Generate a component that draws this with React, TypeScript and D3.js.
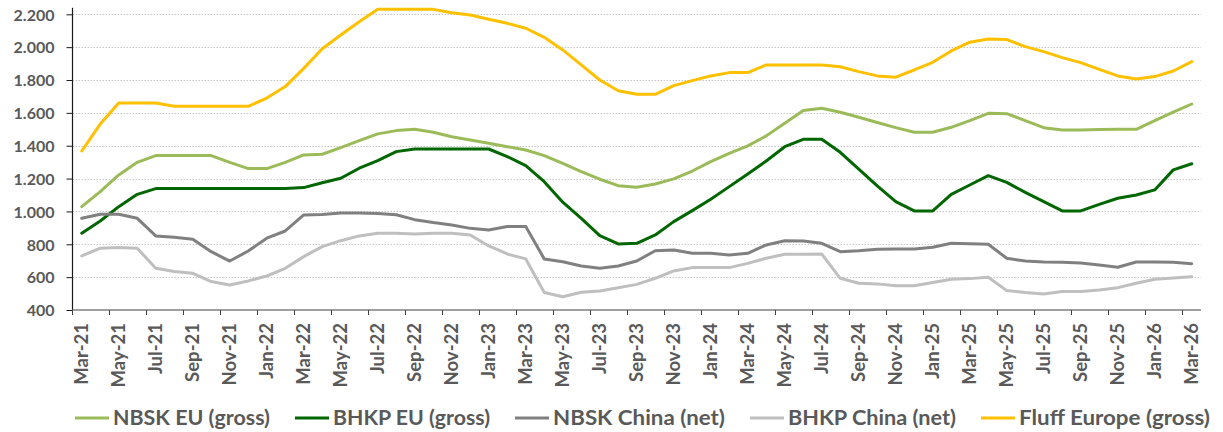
import { useEffect, useRef } from 'react'
import * as d3 from 'd3'

const months = [
  'Mar-21', 'Apr-21', 'May-21', 'Jun-21', 'Jul-21', 'Aug-21', 'Sep-21', 'Oct-21', 'Nov-21', 'Dec-21',
  'Jan-22', 'Feb-22', 'Mar-22', 'Apr-22', 'May-22', 'Jun-22', 'Jul-22', 'Aug-22', 'Sep-22', 'Oct-22',
  'Nov-22', 'Dec-22', 'Jan-23', 'Feb-23', 'Mar-23', 'Apr-23', 'May-23', 'Jun-23', 'Jul-23', 'Aug-23',
  'Sep-23', 'Oct-23', 'Nov-23', 'Dec-23', 'Jan-24', 'Feb-24', 'Mar-24', 'Apr-24', 'May-24', 'Jun-24',
  'Jul-24', 'Aug-24', 'Sep-24', 'Oct-24', 'Nov-24', 'Dec-24', 'Jan-25', 'Feb-25', 'Mar-25', 'Apr-25',
  'May-25', 'Jun-25', 'Jul-25', 'Aug-25', 'Sep-25', 'Oct-25', 'Nov-25', 'Dec-25', 'Jan-26', 'Feb-26',
  'Mar-26',
]

const nbskEu = [
  1029, 1121, 1222, 1299, 1340, 1340, 1340, 1340, 1299, 1261,
  1261, 1299, 1344, 1348, 1388, 1431, 1472, 1492, 1500, 1482,
  1455, 1435, 1415, 1394, 1374, 1340, 1293, 1242, 1196, 1157,
  1147, 1167, 1198, 1246, 1303, 1354, 1399, 1460, 1537, 1614,
  1628, 1604, 1573, 1541, 1510, 1482, 1482, 1512, 1553, 1597,
  1595, 1553, 1510, 1496, 1496, 1498, 1500, 1500, 1553, 1604, 1654,
]

const bhkpEu = [
  867, 942, 1029, 1104, 1139, 1140, 1140, 1140, 1140, 1140,
  1140, 1140, 1145, 1175, 1202, 1263, 1309, 1364, 1380, 1380,
  1380, 1380, 1380, 1334, 1279, 1181, 1056, 958, 853, 802,
  806, 857, 938, 1005, 1074, 1151, 1228, 1307, 1394, 1439,
  1439, 1360, 1257, 1155, 1060, 1003, 1003, 1104, 1161, 1218,
  1177, 1116, 1060, 1003, 1003, 1043, 1080, 1100, 1131, 1253, 1290,
]

const nbskChina = [
  958, 983, 983, 958, 851, 843, 830, 755, 698, 759,
  837, 881, 979, 981, 990, 990, 988, 980, 950, 932,
  918, 897, 887, 908, 908, 711, 694, 668, 654, 668,
  698, 761, 765, 745, 745, 735, 745, 796, 822, 820,
  806, 755, 761, 770, 772, 772, 782, 806, 804, 800,
  715, 698, 692, 690, 686, 674, 660, 692, 692, 690, 682,
]

const bhkpChina = [
  729, 776, 780, 776, 654, 634, 623, 573, 552, 577,
  607, 654, 725, 786, 822, 851, 867, 867, 863, 867,
  867, 857, 790, 741, 711, 506, 481, 508, 516, 536,
  556, 593, 638, 658, 658, 658, 684, 715, 739, 739,
  741, 593, 563, 559, 547, 547, 567, 587, 591, 599,
  518, 506, 498, 512, 512, 522, 536, 563, 587, 595, 603,
]

const fluffEurope = [
  1368, 1532, 1660, 1660, 1660, 1640, 1640, 1640, 1640, 1640,
  1690, 1760, 1871, 1990, 2074, 2155, 2230, 2230, 2230, 2230,
  2210, 2196, 2170, 2145, 2115, 2060, 1983, 1892, 1800, 1735,
  1713, 1713, 1766, 1796, 1825, 1845, 1845, 1892, 1892, 1892,
  1892, 1881, 1851, 1825, 1817, 1861, 1908, 1977, 2030, 2050,
  2046, 2003, 1973, 1936, 1906, 1865, 1825, 1806, 1821, 1855, 1912,
]

const seriesLabels = ['NBSK EU (gross)', 'BHKP EU (gross)', 'NBSK China (net)', 'BHKP China (net)', 'Fluff Europe (gross)']
const seriesColors = ['#9BBB59', '#006600', '#808080', '#BFBFBF', '#FFC000']
const seriesValues = [nbskEu, bhkpEu, nbskChina, bhkpChina, fluffEurope]

const yTicks = [400, 600, 800, 1000, 1200, 1400, 1600, 1800, 2000, 2200]

const W = 1223
const H = 432
const FONT = 'Lato, "Open Sans", sans-serif'
const TEXT = '#595959'

// widths the legend labels take up in the original (calibri is wider than lato)
const legendWidths = [157, 157, 172, 168, 191]

export default function App() {
  const svgRef = useRef<SVGSVGElement>(null)

  useEffect(() => {
    if (!svgRef.current) return
    const svg = d3.select(svgRef.current)
    svg.selectAll('*').remove()

    const left = 72.5
    const right = 1201
    const bottom = 310

    const x = d3.scaleBand<string>().domain(months).range([left, right]).padding(0)
    const cx = (m: string) => (x(m) as number) + x.bandwidth() / 2

    // axis top sits a bit above 2200 like the excel plot area
    const y = d3.scaleLinear().domain([400, 2240]).range([bottom, bottom - 1840 * (295.7 / 1800)])

    // gridlines
    svg.append('g')
      .selectAll('line')
      .data(yTicks.slice(1))
      .join('line')
      .attr('x1', left)
      .attr('x2', right)
      .attr('y1', d => Math.round(y(d)) + 0.5)
      .attr('y2', d => Math.round(y(d)) + 0.5)
      .attr('stroke', '#c6c6c6')
      .attr('stroke-width', 1)
      .attr('stroke-dasharray', '1.5,1.5')

    // y axis
    const yAxis = d3.axisLeft(y).tickValues(yTicks).tickSize(6).tickFormat(d => d3.format(',')(d as number).replace(',', '.'))
    const gy = svg.append('g').attr('transform', `translate(${left},0)`).call(yAxis)
    gy.select('.domain').attr('stroke', '#1a1a1a').attr('stroke-width', 1.2)
      .attr('d', `M-0,${y(2240)}V${bottom}`)
    gy.selectAll('.tick line').attr('stroke', '#1a1a1a')
    gy.selectAll('.tick text')
      .attr('x', -18)
      .attr('dy', '0.36em')
      .attr('fill', TEXT)
      .style('font-family', FONT)
      .style('font-weight', 700)
      .style('font-size', '16px')

    // x axis line + ticks between categories every 2 months
    svg.append('line')
      .attr('x1', left).attr('x2', right)
      .attr('y1', bottom).attr('y2', bottom)
      .attr('stroke', '#7f7f7f').attr('stroke-width', 1.3)

    const labelMonths = months.filter((_, i) => i % 2 === 0)
    svg.append('g')
      .selectAll('line')
      .data(labelMonths)
      .join('line')
      .attr('x1', d => x(d) as number)
      .attr('x2', d => x(d) as number)
      .attr('y1', bottom)
      .attr('y2', bottom + 5)
      .attr('stroke', '#404040')

    svg.append('g')
      .selectAll('text')
      .data(labelMonths)
      .join('text')
      .attr('transform', d => `translate(${cx(d)},${bottom + 13}) rotate(-90)`)
      .attr('text-anchor', 'end')
      .attr('dy', '0.36em')
      .attr('fill', TEXT)
      .style('font-family', FONT)
      .style('font-weight', 700)
      .style('font-size', '18.5px')
      .text(d => d)

    // lines
    const line = d3.line<number>()
      .x((_, i) => cx(months[i]))
      .y(d => y(d))

    seriesValues.forEach((vals, k) => {
      svg.append('path')
        .datum(vals)
        .attr('fill', 'none')
        .attr('stroke', seriesColors[k])
        .attr('stroke-width', 3)
        .attr('stroke-linejoin', 'round')
        .attr('stroke-linecap', 'round')
        .attr('d', line)
    })

    // legend
    const legend = svg.append('g')
    let lx = 75
    const ly = 418
    seriesLabels.forEach((label, k) => {
      legend.append('line')
        .attr('x1', lx).attr('x2', lx + 34)
        .attr('y1', ly).attr('y2', ly)
        .attr('stroke', seriesColors[k])
        .attr('stroke-width', 3)
      legend.append('text')
        .attr('x', lx + 38)
        .attr('y', ly)
        .attr('dy', '0.36em')
        .attr('fill', TEXT)
        .attr('textLength', legendWidths[k])
        .attr('lengthAdjust', 'spacingAndGlyphs')
        .style('font-family', FONT)
        .style('font-weight', 700)
        .style('font-size', '20.5px')
        .text(label)
      lx += 38 + legendWidths[k] + 25
    })
  }, [])

  return (
    <svg
      ref={svgRef}
      width={W}
      height={H}
      style={{ position: 'absolute', left: 0, top: 0, background: '#fff' }}
    />
  )
}
